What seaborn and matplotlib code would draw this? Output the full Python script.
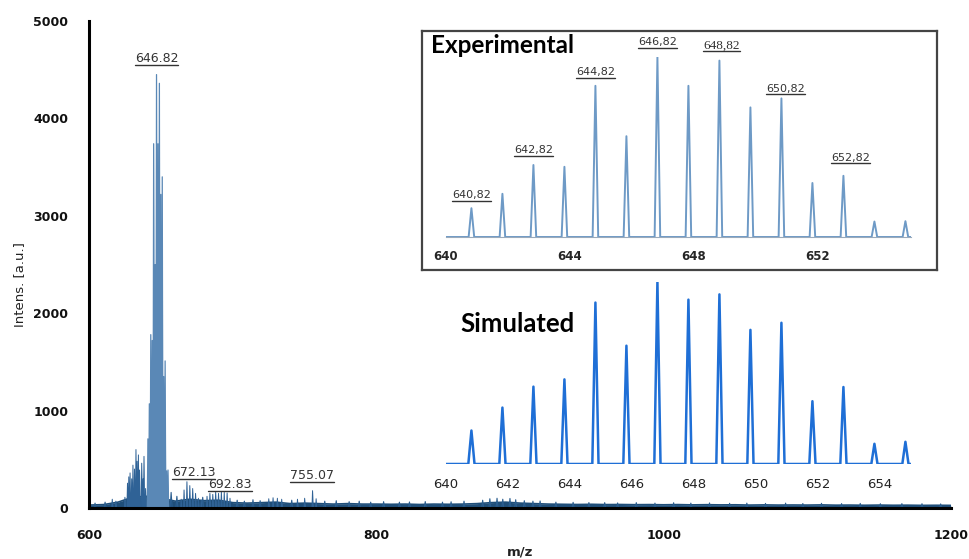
import numpy as np
import pandas as pd
import matplotlib.pyplot as plt
import seaborn as sns
from matplotlib.lines import Line2D

# ---------------- data ----------------
# isotope pattern, m/z of each peak (inset axes)
iso_mz = [640.82, 641.82, 642.82, 643.82, 644.82, 645.82, 646.82, 647.82,
          648.82, 649.82, 650.82, 651.82, 652.82, 653.82, 654.82]
# experimental inset, relative intensity (%)
exp_rel = [16, 24, 40, 39, 84, 56, 100, 84, 98, 72, 77, 30, 34, 8.6, 8.8]
# simulated inset, relative intensity (%)
sim_rel = [18.4, 31, 42.5, 46.5, 88.7, 65, 100, 90.3, 93.2, 73.7, 77.6, 34.5, 42.3, 11.1, 12.2]

# main spectrum, isotope cluster around 646.82 (a.u.)
main_int = [710, 1070, 1780, 1720, 3740, 2500, 4450, 3740, 4360, 3220, 3400, 1350, 1510, 380, 390]

# other clusters in the main spectrum
side_mz = [616.0, 618.5, 624.8, 626.6, 627.5, 628.4, 629.5, 630.4, 631.5, 632.5, 633.3, 634.2,
           635.0, 636.5, 637.4, 638.1, 639.2,
           664.0, 666.0, 668.0, 670.0, 672.0, 674.0, 676.0, 678.0,
           682.0, 684.0, 686.0, 688.0, 690.0, 692.0, 694.0, 696.0, 698.0,
           725.0, 728.0, 731.0, 734.0, 745.0, 750.0, 755.5, 758.0]
side_int = [90, 70, 110, 255, 320, 360, 300, 440, 400, 600, 480, 545,
            390, 460, 300, 530, 200,
            90, 185, 270, 230, 200, 150, 100, 80,
            120, 150, 140, 165, 150, 170, 160, 155, 100,
            95, 105, 100, 90, 90, 100, 178, 95]

# small spikes on the baseline
spike_mz = [604, 611, 657, 661, 679, 703, 708, 714, 719, 741, 764, 772, 781, 788, 796,
            805, 816, 823, 834, 846, 852, 861, 874, 879, 884, 888, 893, 897, 903, 909,
            914, 925, 937, 948, 959, 968, 981, 994, 1007, 1019, 1032, 1046, 1058, 1071,
            1085, 1097, 1110, 1124, 1137, 1151, 1166, 1180, 1193]
spike_int = [50, 60, 160, 120, 110, 80, 70, 85, 75, 80, 70, 75, 65, 70, 60,
             65, 60, 62, 66, 60, 64, 70, 80, 95, 100, 90, 98, 85, 75, 70,
             72, 60, 58, 56, 55, 52, 55, 50, 54, 50, 52, 48, 50, 47,
             50, 46, 48, 45, 47, 44, 45, 44, 42]

# baseline noise level every 10 m/z
noise_mz = list(range(600, 1201, 10))
noise_int = [30, 35, 60, 110, 120, 100, 70, 90, 75, 80, 55, 50, 55, 60, 45, 50, 45, 40, 45, 40,
             40, 38, 40, 36, 40, 38, 40, 45, 55, 60, 50, 45, 40, 38, 36, 38, 35, 36, 34, 35,
             33, 35, 32, 34, 32, 33, 30, 32, 30, 31, 30, 32, 29, 30, 28, 30, 28, 29, 27, 28, 27]

main_labels = ['646.82', '672.13', '692.83', '755.07']
main_lab_x = [646.82, 672.6, 698.1, 755.2]
main_lab_y = [4579, 328, 205, 293]

exp_labels = ['640,82', '642,82', '644,82', '646,82', '648,82', '650,82', '652,82']
exp_lab_x = [640.82, 642.82, 644.82, 646.82, 648.88, 650.95, 653.05]
exp_lab_y = [21.6, 46.5, 90, 106.5, 104.8, 80.8, 42.3]


def stick_profile(mz, h, half, x0=None, x1=None):
    xs, ys = [], []
    if x0 is not None:
        xs.append(x0); ys.append(0)
    for c, v in zip(mz, h):
        xs += [c - half, c, c + half]
        ys += [0, v, 0]
    if x1 is not None:
        xs.append(x1); ys.append(0)
    return pd.DataFrame({'mz': xs, 'y': ys})


sns.set_theme(style="white")
plt.rcParams['font.family'] = ['DejaVu Sans']

W, H = 969, 559
fig = plt.figure(figsize=(W / 100, H / 100), dpi=100)

# ---------------- main spectrum ----------------
ax = fig.add_axes([89.3 / W, 1 - 508 / H, (950.7 - 89.3) / W, (508 - 21) / H])

noise = pd.DataFrame({'mz': noise_mz, 'y': noise_int})
ax.fill_between(noise['mz'], noise['y'], color='#1f4e79', lw=0)
sns.lineplot(data=noise, x='mz', y='y', ax=ax, color='#1f4e79', lw=1.2)

spk = stick_profile(spike_mz, spike_int, 0.7)
sns.lineplot(data=spk, x='mz', y='y', ax=ax, sort=False, estimator=None, color='#2a5d8f', lw=0.8)

side = stick_profile(side_mz, side_int, 0.4)
ax.fill_between(side['mz'], side['y'], color='#4f7fae', alpha=0.6, lw=0)
sns.lineplot(data=side, x='mz', y='y', ax=ax, sort=False, estimator=None, color='#2f6296', lw=0.7)

clus = stick_profile(iso_mz, main_int, 0.45)
ax.fill_between(clus['mz'], clus['y'], color='#86abd0', alpha=0.85, lw=0)
sns.lineplot(data=clus, x='mz', y='y', ax=ax, sort=False, estimator=None, color='#5a88b6', lw=0.9)

ax.set_xlim(600, 1200)
ax.set_ylim(0, 5000)
ax.set_xticks([600, 800, 1000, 1200])
ax.set_yticks([0, 1000, 2000, 3000, 4000, 5000])
for s in ['top', 'right']:
    ax.spines[s].set_visible(False)
for s in ['left', 'bottom']:
    ax.spines[s].set_color('black')
    ax.spines[s].set_linewidth(2.2)
ax.tick_params(axis='both', direction='out', length=5, width=2, color='black',
               labelsize=9, pad=10)
for lab in ax.get_xticklabels() + ax.get_yticklabels():
    lab.set_fontweight('bold')
    lab.set_color('#111111')
ax.set_xlabel('m/z', fontsize=9.5, fontweight='bold', color='#222222')
ax.xaxis.set_label_coords(0.5, -0.076)
ax.set_ylabel('Intens. [a.u.]', fontsize=9.5, color='#222222')
ax.yaxis.set_label_coords(-0.074, 0.458)

under = []
for txt, x, y in zip(main_labels, main_lab_x, main_lab_y):
    under.append(ax.text(x, y, txt, ha='center', va='baseline', fontsize=9, color='#333333'))

# ---------------- inset frame ----------------
box = fig.add_axes([422 / W, 1 - 270 / H, 515 / W, 239 / H])
box.set_xticks([]); box.set_yticks([])
box.set_facecolor('white')
for s in box.spines.values():
    s.set_color('#444444'); s.set_linewidth(1.6)

# ---------------- experimental inset ----------------
axe = fig.add_axes([446 / W, 1 - 237 / H, 465 / W, 180 / H], facecolor='none')
exp = stick_profile(iso_mz, exp_rel, 0.09, 640.0, 655.0)
sns.lineplot(data=exp, x='mz', y='y', ax=axe, sort=False, estimator=None, color='#6e9ac6', lw=1.4)
axe.set_xlim(640, 655)
axe.set_ylim(0, 100)
axe.set_xticks([640, 644, 648, 652])
axe.set_xticks(np.arange(640, 655.1, 1), minor=True)
axe.set_yticks([])
axe.set_xlabel(''); axe.set_ylabel('')
for s in ['top', 'right', 'left']:
    axe.spines[s].set_visible(False)
axe.spines['bottom'].set_color('#9aaabb'); axe.spines['bottom'].set_linewidth(0.8)
axe.tick_params(axis='x', which='major', direction='out', length=4, width=0.8, color='#888888',
                labelsize=8.5, pad=5)
axe.tick_params(axis='x', which='minor', direction='out', length=2, width=0.6, color='#aaaaaa')
for lab in axe.get_xticklabels():
    lab.set_fontweight('bold')
for txt, x, y in zip(exp_labels, exp_lab_x, exp_lab_y):
    serif = txt == '648,82'
    under.append(axe.text(x, y, txt, ha='center', va='baseline',
                          fontsize=9.5 if serif else 8, color='#333333',
                          family=['Liberation Serif'] if serif else ['DejaVu Sans'],
                          clip_on=False))

fig.text(431 / W, 1 - 53 / H, 'Experimental', fontsize=17.5, fontweight='bold',
         family=['Lato', 'DejaVu Sans'], ha='left', va='baseline', color='black')

# ---------------- simulated inset ----------------
axs = fig.add_axes([446 / W, 1 - 464 / H, 465 / W, 182 / H], facecolor='none')
sim = stick_profile(iso_mz, sim_rel, 0.1, 640.0, 655.0)
sns.lineplot(data=sim, x='mz', y='y', ax=axs, sort=False, estimator=None, color='#1f6fd6', lw=1.8)
axs.set_xlim(640, 655)
axs.set_ylim(0, 100)
axs.set_xticks(np.arange(640, 655, 2))
axs.set_xticks(np.arange(640, 655.1, 0.5), minor=True)
axs.set_yticks([])
axs.set_xlabel(''); axs.set_ylabel('')
for s in ['top', 'right', 'left']:
    axs.spines[s].set_visible(False)
axs.spines['bottom'].set_visible(False)
axs.tick_params(axis='x', which='major', direction='out', length=4, width=0.8, color='#999999',
                labelsize=9.5, labelcolor='#222222', pad=6)
axs.tick_params(axis='x', which='minor', direction='out', length=2.5, width=0.6, color='#aaaaaa')

fig.text(460 / W, 1 - 332 / H, 'Simulated', fontsize=18.5, fontweight='bold',
         family=['Lato', 'DejaVu Sans'], ha='left', va='baseline', color='black')

# ---------------- underlines ----------------
fig.canvas.draw()
r = fig.canvas.get_renderer()
for t in under:
    bb = t.get_window_extent(r)
    yd = t.get_transform().transform(t.get_position())[1] - 2.5
    fig.add_artist(Line2D([bb.x0 / W, bb.x1 / W], [yd / H, yd / H], transform=fig.transFigure,
                          color='#333333', lw=1.0))

fig.savefig('out.png', dpi=100)
